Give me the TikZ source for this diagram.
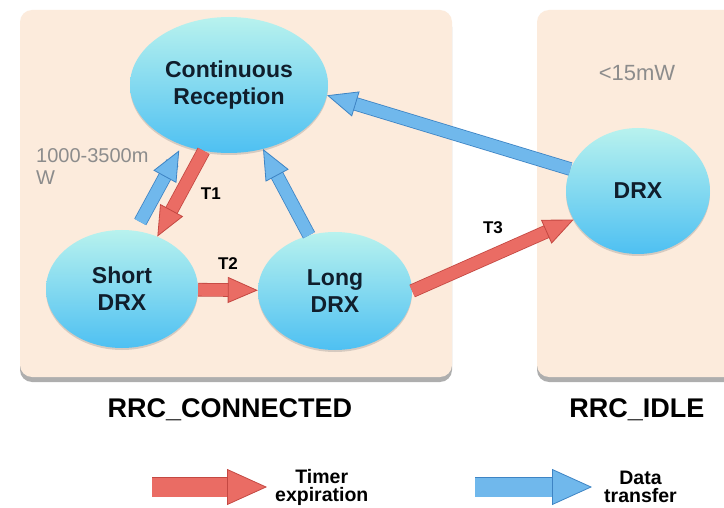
\documentclass[tikz,border=0pt]{standalone}
\usepackage{fontspec}
\setmainfont{Liberation Sans}
\usetikzlibrary{arrows.meta,positioning,shapes.geometric,shadows}
\definecolor{peach}{RGB}{252,235,220}
\definecolor{aquatop}{RGB}{184,242,238}
\definecolor{aquabot}{RGB}{78,192,242}
\definecolor{timerred}{RGB}{234,108,100}
\definecolor{timeredge}{RGB}{196,72,66}
\definecolor{datablue}{RGB}{112,184,236}
\definecolor{dataedge}{RGB}{62,132,196}
\definecolor{navy}{RGB}{16,30,44}

\begin{document}
\begin{tikzpicture}[
  x=1pt, y=-1pt,
  panel/.style={fill=peach,rounded corners=12pt,inner sep=0pt,
    drop shadow={shadow xshift=0pt,shadow yshift=-5pt,opacity=0.45,fill=black!70}},
  phase/.style={ellipse,top color=aquatop,bottom color=aquabot,inner sep=0pt,align=center,
    text=navy,font=\bfseries\fontsize{23}{27}\selectfont,
    drop shadow={shadow xshift=0pt,shadow yshift=-2pt,opacity=0.3}},
  tlabel/.style={font=\bfseries\fontsize{17}{20}\selectfont},
  power/.style={text=black!45,font=\fontsize{20}{22}\selectfont,align=left,inner sep=0pt},
  rrc/.style={font=\bfseries\fontsize{27}{30}\selectfont},
  legtext/.style={font=\bfseries\fontsize{19.5}{18}\selectfont,align=center,inner sep=0pt},
  timer/.style={line width=12pt,draw=timerred,
    -{Triangle[width=26pt,length=30pt,fill=timerred,color=timeredge,line width=0.8pt]},
    preaction={draw=timeredge,line width=13.6pt,arrows=-,shorten >=20pt}},
  data/.style={line width=12pt,draw=datablue,
    -{Triangle[width=26pt,length=30pt,fill=datablue,color=dataedge,line width=0.8pt]},
    preaction={draw=dataedge,line width=13.6pt,arrows=-,shorten >=20pt}},
  timerkey/.style={line width=19pt,draw=timerred,
    -{Triangle[width=36pt,length=40pt,fill=timerred,color=timeredge,line width=0.8pt]},
    preaction={draw=timeredge,line width=20.6pt,arrows=-,shorten >=25pt}},
  datakey/.style={line width=19pt,draw=datablue,
    -{Triangle[width=36pt,length=40pt,fill=datablue,color=dataedge,line width=0.8pt]},
    preaction={draw=dataedge,line width=20.6pt,arrows=-,shorten >=25pt}}
]
  \useasboundingbox[fill=white] (0,0) rectangle (724,508);
  % the two RRC regions
  \node[panel,minimum width=432pt,minimum height=367pt] (conn) at (236,193.5) {};
  \node[panel,minimum width=210pt,minimum height=367pt] (idle) at (642,193.5) {};
  \node[power,anchor=north west] (pwrc) at (36,148) {1000-3500m\\W};
  \node[power,font=\fontsize{22}{24}\selectfont] (pwri) at (637,73) {<15mW};
  % states
  \node[phase,minimum width=198pt,minimum height=136pt] (cr) at (229,85) {Continuous\\Reception};
  \node[phase,minimum width=152pt,minimum height=118pt] (sdrx) at (122,289) {Short\\DRX};
  \node[phase,minimum width=154pt,minimum height=118pt] (ldrx) at (335,291) {Long\\DRX};
  \node[phase,minimum width=144pt,minimum height=126pt] (idrx) at (638,191) {DRX};
  % transitions
  \draw[data,shorten <=10pt,shorten >=6pt] (sdrx.77) -- (cr.232);
  \draw[timer] (cr.249) -- (sdrx.56) node[midway,right=11pt,tlabel] (t1) {T1};
  \draw[data] (ldrx.115) -- (cr.-62);
  \draw[timer] (sdrx) -- (ldrx) node[midway,above=11pt,tlabel] (t2) {T2};
  \draw[timer] (ldrx.east) -- (idrx.204) node[midway,above=12pt,tlabel] (t3) {T3};
  \draw[data] (idrx.162) -- (cr.-6);
  \node[rrc] (rrcc) at (230,410) {RRC\_CONNECTED};
  \node[rrc] (rrci) at (637,410) {RRC\_IDLE};
  % legend
  \coordinate (ta) at (152,487);
  \coordinate (tb) at (267,487);
  \coordinate (da) at (475,487);
  \coordinate (db) at (592,487);
  \draw[timerkey] (ta) -- (tb);
  \draw[datakey] (da) -- (db);
  \node[legtext,right=8pt of tb] (tkey) {Timer\\expiration};
  \node[legtext,right=12pt of db] (dkey) {Data\\transfer};
\end{tikzpicture}
\end{document}
